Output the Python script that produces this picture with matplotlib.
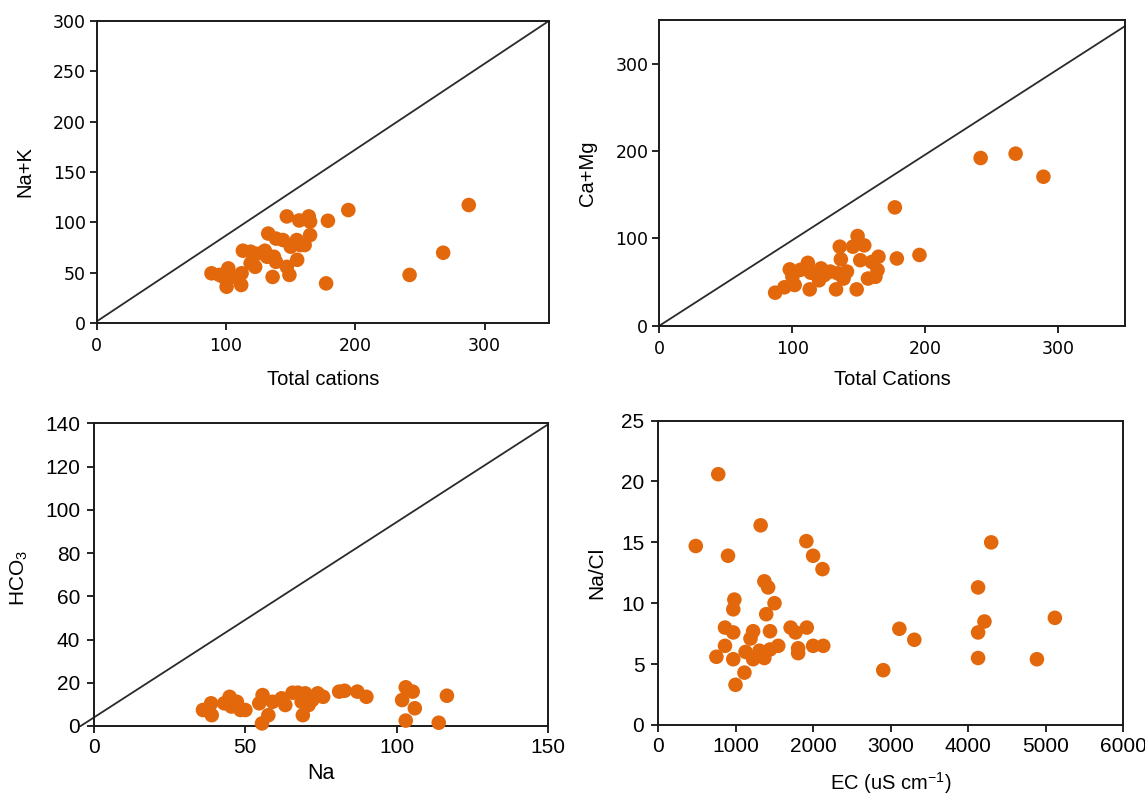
import matplotlib
matplotlib.use('Agg')
import matplotlib.pyplot as plt

plt.rcParams['font.family'] = ['Liberation Sans', 'DejaVu Sans']
plt.rcParams['mathtext.default'] = 'regular'

# panel a: total cations vs Na+K
tc_a = [88.7, 94.8, 101.7, 100.4, 98, 105, 111.7, 112, 113, 119, 122.5, 119, 124, 130,
        132.6, 131.7, 137, 138.6, 136, 138.6, 144, 147, 147, 149, 150, 154.7, 156.6,
        157.5, 155, 164, 165, 165, 160.8, 178.8, 177.4, 194.6, 242, 268, 287.8]
nak = [49.6, 48, 54.5, 36.3, 46, 46, 38, 49.6, 72, 59.5, 56, 71, 69, 72,
       89, 66, 66, 61, 46, 84, 82.6, 56, 106, 48, 76, 82.6, 102,
       77.6, 63, 106, 100.8, 87.5, 77.6, 101.7, 39.6, 112.3, 48, 70, 117.3]

# panel b: total cations vs Ca+Mg
tc_b = [87, 94, 101.7, 98, 100, 106, 111.6, 113, 113.8, 121.5, 120, 124, 128.5, 132.8,
        134, 135.6, 136.4, 138.4, 141, 145.5, 148.3, 149, 154, 151, 156.8, 162.4, 164,
        164.7, 159.6, 177, 178.5, 195.5, 241.5, 267.8, 288.7]
camg = [37.8, 44, 46.6, 64.5, 56, 64, 72, 41.6, 60.7, 65.6, 52, 58, 62, 41.6,
        60, 90.5, 76, 54, 62, 90.5, 41.6, 102.7, 92, 75, 54, 56, 63.7,
        79, 73, 135.5, 77, 81, 192, 197, 170.6]

# panel c: Na vs HCO3
na = [36, 38.7, 38.9, 43, 44.8, 45.4, 47.2, 48.4, 50, 54.6, 55.7, 55.5, 57.6, 59,
      62, 63.2, 65.6, 67.4, 69, 68.6, 69.8, 70.9, 72.1, 73.9, 75.7, 81, 82.8, 87, 90,
      101.8, 103, 105.3, 103, 106, 113.9, 116.6]
hco3 = [7.4, 10.5, 5, 10.5, 13.5, 9, 11.2, 7.4, 7.4, 10.5, 14.3, 1.2, 5, 11.2,
        12.8, 9.7, 15.4, 15.4, 5, 11.2, 15.1, 9.7, 12, 15.1, 13.5, 15.9, 16.3, 15.9, 13.5,
        12, 17.9, 15.9, 2.5, 8.2, 1.5, 14]

# panel d: EC vs Na/Cl
ec = [484, 774, 750, 861, 861, 900, 968, 982, 968, 968, 997, 1112, 1127, 1190, 1224,
      1224, 1321, 1306, 1369, 1369, 1418, 1393, 1442, 1442, 1500, 1548, 1708, 1771,
      1805, 1805, 1911, 1916, 1998, 1998, 2119, 2129, 2903, 3111, 3304, 4127, 4127,
      4127, 4209, 4296, 4886, 5118]
nacl = [14.7, 20.6, 5.6, 8, 6.5, 13.9, 7.6, 10.3, 9.5, 5.4, 3.3, 4.3, 6, 7.1, 7.7,
        5.4, 16.4, 6.1, 5.5, 11.8, 11.3, 9.1, 7.7, 6.2, 10, 6.5, 8, 7.6,
        6.3, 5.9, 15.1, 8, 13.9, 6.5, 12.8, 6.5, 4.5, 7.9, 7, 11.3, 7.6,
        5.5, 8.5, 15, 5.4, 8.8]

col = '#E3680C'
lcol = '#2a2a2a'

fig = plt.figure(figsize=(11.45, 7.95), dpi=100)
ax1 = fig.add_axes([0.0846, 0.5933, 0.3950, 0.3806])
ax2 = fig.add_axes([0.5759, 0.5903, 0.4066, 0.3845])
ax3 = fig.add_axes([0.0821, 0.0868, 0.3965, 0.3807])
ax4 = fig.add_axes([0.5749, 0.0881, 0.4061, 0.3828])


def style(ax, top):
    for s in ax.spines.values():
        s.set_linewidth(1.4)
        s.set_color('#1a1a1a')
    if top:
        ax.tick_params(direction='out', length=5, width=1.2, labelsize=12.5)
        ax.tick_params(axis='x', pad=5)
        ax.tick_params(axis='y', pad=3)
        for lb in ax.get_xticklabels() + ax.get_yticklabels():
            lb.set_family('DejaVu Sans')
    else:
        ax.tick_params(direction='out', length=5, width=1.2, labelsize=15)
        ax.tick_params(axis='x', pad=4)
        ax.tick_params(axis='y', pad=5)


ax1.plot([0, 350], [2, 300], color=lcol, lw=1.3)
ax1.scatter(tc_a, nak, s=110, color=col, edgecolors='none', zorder=3)
ax1.set_xlim(0, 350)
ax1.set_ylim(0, 300)
ax1.set_xticks([0, 100, 200, 300])
ax1.set_yticks(range(0, 301, 50))
ax1.set_xlabel('Total cations', fontsize=14.5)
ax1.set_ylabel('Na+K', fontsize=14.5)
ax1.xaxis.set_label_coords(0.5, -0.154)
ax1.yaxis.set_label_coords(-0.139, 0.5)

ax2.plot([0, 350], [0, 343], color=lcol, lw=1.3)
ax2.scatter(tc_b, camg, s=110, color=col, edgecolors='none', zorder=3)
ax2.set_xlim(0, 350)
ax2.set_ylim(0, 350)
ax2.set_xticks([0, 100, 200, 300])
ax2.set_yticks([0, 100, 200, 300])
ax2.set_xlabel('Total Cations', fontsize=14.5)
ax2.set_ylabel('Ca+Mg', fontsize=14.5)
ax2.xaxis.set_label_coords(0.5, -0.145)
ax2.yaxis.set_label_coords(-0.134, 0.5)

ax3.plot([-4.4, 150], [0, 139.5], color=lcol, lw=1.3, clip_on=False)
ax3.scatter(na, hco3, s=110, color=col, edgecolors='none', zorder=3, clip_on=False)
ax3.set_xlim(0, 150)
ax3.set_ylim(0, 140)
ax3.set_xticks([0, 50, 100, 150])
ax3.set_yticks(range(0, 141, 20))
ax3.set_xlabel('Na', fontsize=15.5)
ax3.set_ylabel('HCO$_3$', fontsize=15)
ax3.xaxis.set_label_coords(0.5, -0.122)
ax3.yaxis.set_label_coords(-0.141, 0.49)

ax4.scatter(ec, nacl, s=110, color=col, edgecolors='none', zorder=3)
ax4.set_xlim(0, 6000)
ax4.set_ylim(0, 25)
ax4.set_xticks(range(0, 6001, 1000))
ax4.set_yticks(range(0, 26, 5))
ax4.set_xlabel('EC (uS cm$^{-1}$)', fontsize=14.5)
ax4.set_ylabel('Na/Cl', fontsize=15)
ax4.xaxis.set_label_coords(0.5, -0.148)
ax4.yaxis.set_label_coords(-0.112, 0.5)

style(ax1, True)
style(ax2, True)
style(ax3, False)
style(ax4, False)

fig.savefig('out.png', dpi=100)
